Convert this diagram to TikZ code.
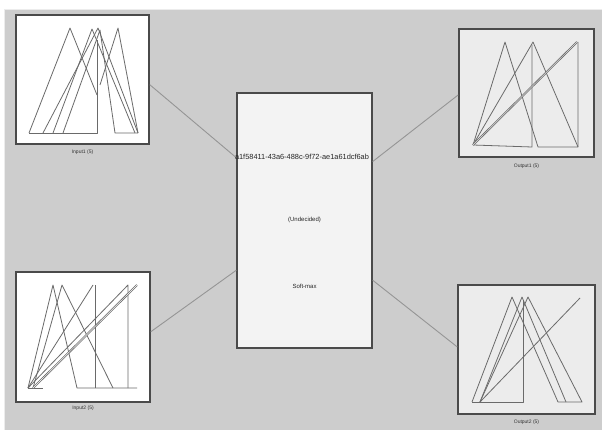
\documentclass[tikz,border=0pt]{standalone}
\usepackage{fontspec}
\setmainfont{Liberation Sans}
\usetikzlibrary{calc}
\definecolor{bggray}{HTML}{CDCDCD}
\definecolor{boxedge}{HTML}{4A4A4A}
\definecolor{plotline}{HTML}{6A6A6A}
\definecolor{conn}{HTML}{959595}
\tikzset{
  chartbox/.style={draw=boxedge, line width=1.6pt, rectangle, inner sep=0pt},
  inbox/.style={chartbox, fill=white},
  outbox/.style={chartbox, fill={rgb,255:red,236;green,236;blue,236}},
  midbox/.style={draw=boxedge, line width=1.4pt, rectangle, inner sep=0pt, fill={rgb,255:red,243;green,243;blue,243}, minimum width=135pt, minimum height=255pt},
  lbl/.style={font=\fontsize{5}{6}\selectfont, text=black!80, inner sep=0pt},
  midtxt/.style={font=\fontsize{6}{7}\selectfont, text=black!85, inner sep=0pt},
  curve/.style={draw=plotline, line width=0.8pt, line join=round},
  link/.style={draw=conn, line width=0.9pt}
}
\begin{document}
\begin{tikzpicture}[x=1pt,y=-1pt]
\useasboundingbox (0,0) rectangle (602,430);
\fill[white] (0,0) rectangle (602,430);
\fill[bggray] (4,9) rectangle (602,430);
\draw[white!85!gray, line width=0.8pt] (4,430) -- (4,9) -- (602,9);

% boxes
\node[inbox, minimum width=133pt, minimum height=129pt] (in1) at (82.5,79.5) {};
\node[outbox, minimum width=135pt, minimum height=128pt] (out1) at (526.5,93) {};
\node[inbox, minimum width=134pt, minimum height=130pt] (in2) at (83,337) {};
\node[outbox, minimum width=137pt, minimum height=129pt] (out2) at (526.5,349.5) {};
\node[midbox] (mid) at (304.5,220.5) {};

% connectors
\draw[link] ($(in1.north east)!0.54!(in1.south east)$) -- ($(mid.north west)!0.255!(mid.south west)$);
\draw[link] ($(in2.north east)!0.46!(in2.south east)$) -- ($(mid.north west)!0.694!(mid.south west)$);
\draw[link] ($(mid.north east)!0.27!(mid.south east)$) -- ($(out1.north west)!0.515!(out1.south west)$);
\draw[link] ($(mid.north east)!0.733!(mid.south east)$) -- ($(out2.north west)!0.48!(out2.south west)$);

% labels
\node[lbl] (l1) at (82.5,152) {Input1 (5)};
\node[lbl] (l2) at (526.5,166) {Output1 (5)};
\node[lbl] (l3) at (83,408) {Input2 (5)};
\node[lbl] (l4) at (526.5,422) {Output2 (5)};

% centre texts
\node[midtxt, font=\fontsize{7.4}{8}\selectfont] (guid) at (302,157) {a1f58411-43a6-488c-9f72-ae1a61dcf6ab};
\node[midtxt] (kind) at (304.5,220) {(Undecided)};
\node[midtxt] (act) at (304.5,286) {Soft-max};

% Input1 chart
\draw[curve] (29,133) -- (70,28) -- (97,95);
\draw[curve] (29,133) -- (97,133) -- (97,40);
\draw[curve] (43,133) -- (98,28) -- (138,133);
\draw[curve] (53,133) -- (92,29) -- (135,133);
\draw[curve] (63,133) -- (100,30) -- (115,133) -- (138,133);
\draw[curve] (100,85) -- (118,28) -- (138,133);

% Output1 chart
\draw[curve] (473,145) -- (505,42) -- (538,147) -- (578,147) -- (578,42);
\draw[curve] (473,145) -- (532,147) -- (532,45);
\draw[curve] (473,145) -- (533,42) -- (578,147);
\draw[plotline, line width=2pt] (473,145) -- (577,42);
\draw[bggray!60!white, line width=0.5pt] (473,145) -- (577,42);

% Input2 chart
\draw[curve] (28,388) -- (53,285) -- (77,388) -- (137,388);
\draw[curve] (33,388) -- (62,285) -- (113,388);
\draw[curve] (28,388) -- (43,388);
\draw[curve] (28,388) -- (93,285);
\draw[curve] (95,388) -- (95,285);
\draw[curve] (28,388) -- (128,285) -- (128,388);
\draw[plotline, line width=2pt] (33,388) -- (137,285);
\draw[white, line width=0.5pt] (33,388) -- (137,285);

% Output2 chart
\draw[curve] (472,402) -- (512,297) -- (558,402) -- (582,402) -- (528,297) -- (480,402);
\draw[curve] (472,402) -- (523,402) -- (523,300);
\draw[curve] (480,402) -- (522,297) -- (566,402);
\draw[curve] (480,402) -- (580,298);
\end{tikzpicture}
\end{document}
